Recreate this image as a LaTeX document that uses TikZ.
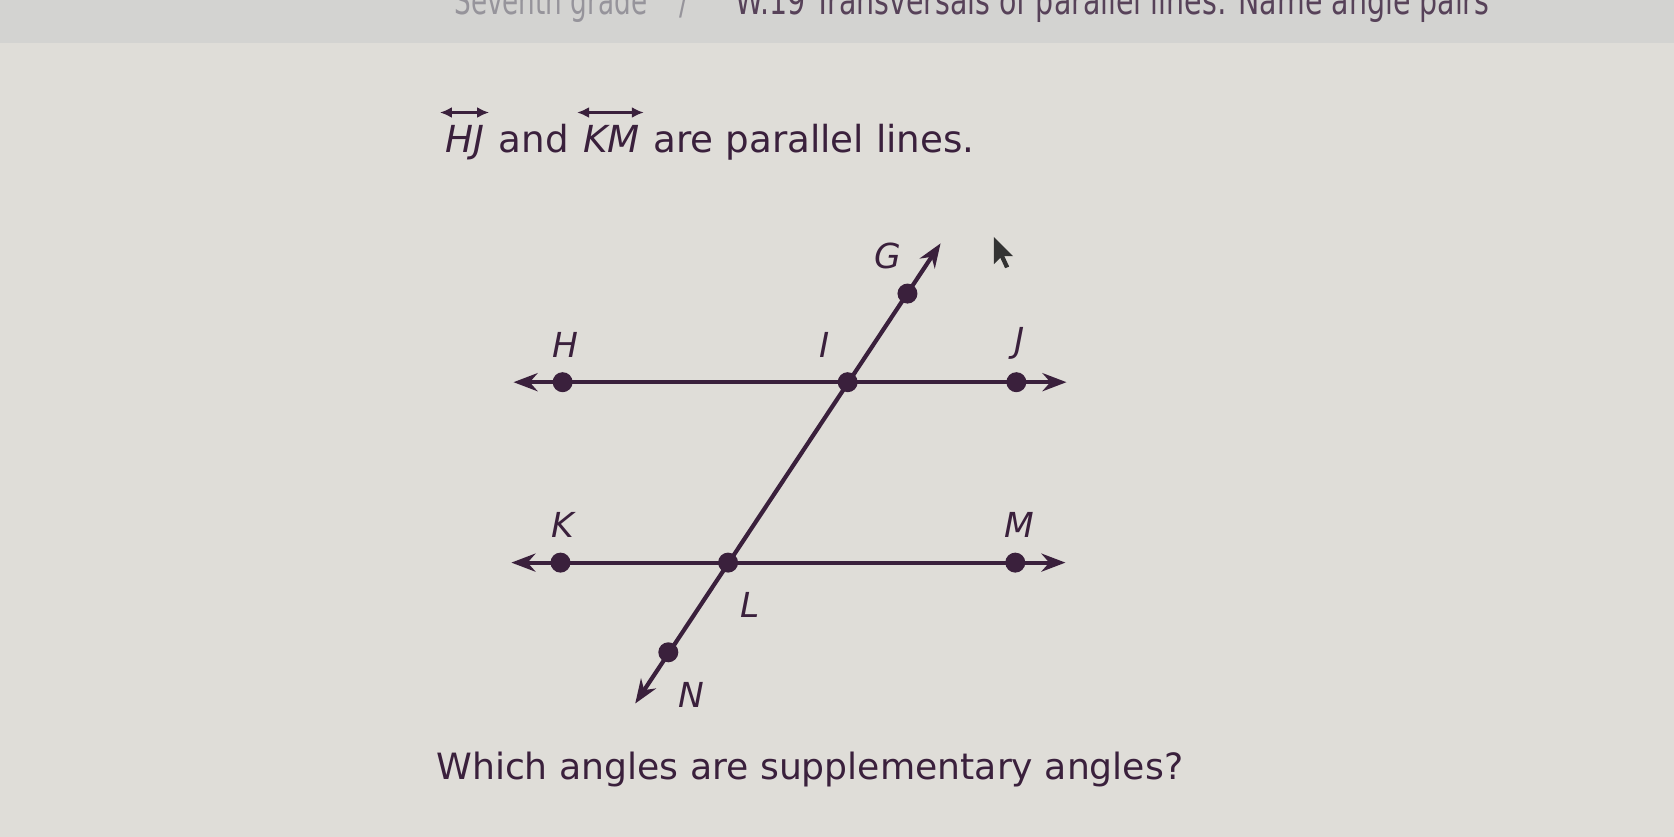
\documentclass[tikz,border=0pt]{standalone}
\usepackage{graphicx}
\usepackage{fontspec}
\setmainfont{DejaVu Sans}
\usetikzlibrary{arrows.meta,positioning}
\definecolor{paper}{RGB}{223,221,216}
\definecolor{band}{RGB}{211,211,209}
\definecolor{ink}{RGB}{58,32,60}
\definecolor{crumb}{RGB}{150,148,155}

\begin{document}
\begin{tikzpicture}[x=0.010676cm,y=-0.010676cm,
  line/.style={ink,line width=0.042cm,
    {Stealth[length=0.24cm,width=0.18cm]}-{Stealth[length=0.24cm,width=0.18cm]}},
  overarr/.style={ink,line width=0.026cm,
    {Latex[length=0.12cm,width=0.11cm]}-{Latex[length=0.12cm,width=0.11cm]}},
  dot/.style={circle,fill=ink,inner sep=0pt,minimum size=0.2cm},
  lbl/.style={text=ink,font=\fontsize{9.8}{11}\selectfont\itshape,inner sep=0pt},
  txt/.style={text=ink,inner sep=0pt,anchor=base west,font=\fontsize{10.6}{12}\selectfont},
  crumbtxt/.style={font=\fontsize{11}{13}\selectfont,inner sep=0pt,anchor=base west}]
\useasboundingbox (0,0) rectangle (1568,784);
\fill[paper] (-20,-20) rectangle (1590,800);
\fill[band] (-20,-20) rectangle (1590,40);
% breadcrumb, cut off at the top
\node[crumbtxt,text=crumb] (grade) at (425,14) {\scalebox{0.68}[1]{Seventh grade}};
\node[crumbtxt,text=crumb] (sep) at (636,14) {\scalebox{0.7}[1]{/}};
\node[crumbtxt,text=ink!85] (skill) at (688,14)
  {\scalebox{0.736}[1]{W.19 Transversals of parallel lines: Name angle pairs}};

% first sentence
\node[txt] (HJtxt) at (417,143) {\itshape HJ};
\node[txt,base right=3.6pt of HJtxt] (andtxt) {and};
\node[txt,base right=3.6pt of andtxt] (KMtxt) {\itshape KM};
\node[txt,base right=3.6pt of KMtxt] (resttxt) {are parallel lines.};
\draw[overarr] ([xshift=-1.5pt,yshift=3.5pt]HJtxt.north west) -- ([xshift=1pt,yshift=3.5pt]HJtxt.north east);
\draw[overarr] ([xshift=-1.5pt,yshift=3.5pt]KMtxt.north west) -- ([xshift=1pt,yshift=3.5pt]KMtxt.north east);

% ends of the three lines
\coordinate (HJw) at (481,358);
\coordinate (HJe) at (999,358);
\coordinate (KMw) at (479,527);
\coordinate (KMe) at (998,527);
\coordinate (Gtip) at (881,228);
\coordinate (Ntip) at (595,659);
\draw[line] (HJw) -- (HJe);
\draw[line] (KMw) -- (KMe);
\draw[line] (Ntip) -- (Gtip);

% points
\node[dot] (H) at (527,358) {};
\node[dot] (I) at (794,358) {};
\node[dot] (J) at (952,358) {};
\node[dot] (K) at (525,527) {};
\node[dot] (L) at (682,527) {};
\node[dot] (M) at (951,527) {};
\node[dot] (G) at (850,275) {};
\node[dot] (N) at (626,611) {};
\node[lbl] (labH) at (530,323) {H};
\node[lbl] (labI) at (772,323) {I};
\node[lbl] (labJ) at (955,322) {J};
\node[lbl] (labG) at (832,240) {G};
\node[lbl] (labK) at (527,492) {K};
\node[lbl] (labM) at (955,492) {M};
\node[lbl] (labL) at (703,567) {L};
\node[lbl] (labN) at (648,651) {N};

% mouse pointer
\fill[black!80,shift={(931,222)},scale=1.5]
  (0,0) -- (0,17) -- (4,13) -- (7,19.5) -- (9.5,18.5) -- (6.5,12) -- (12,12) -- cycle;

\node[txt,font=\fontsize{10.3}{12}\selectfont] (ask) at (408,730)
  {Which angles are supplementary angles?};
\end{tikzpicture}
\end{document}
